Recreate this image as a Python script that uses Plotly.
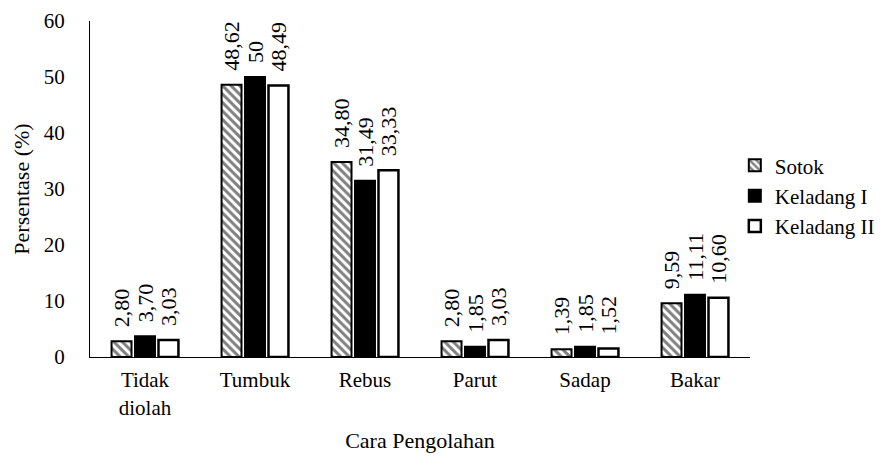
import plotly.graph_objects as go

categories = ["Tidak<br>diolah", "Tumbuk", "Rebus", "Parut", "Sadap", "Bakar"]
sotok = [2.80, 48.62, 34.80, 2.80, 1.39, 9.59]
keladang1 = [3.70, 50, 31.49, 1.85, 1.85, 11.11]
keladang2 = [3.03, 48.49, 33.33, 3.03, 1.52, 10.60]
sotok_lbl = ["2,80", "48,62", "34,80", "2,80", "1,39", "9,59"]
kel1_lbl = ["3,70", "50", "31,49", "1,85", "1,85", "11,11"]
kel2_lbl = ["3,03", "48,49", "33,33", "3,03", "1,52", "10,60"]

FONT = "Liberation Serif"
PAD = "\u00a0\u00a0"

fig = go.Figure()
fig.add_trace(go.Bar(
    name="Sotok", x=categories, y=sotok, text=[PAD + t for t in sotok_lbl],
    marker=dict(color="white", line=dict(color="black", width=2),
                pattern=dict(shape="\\", fgcolor="black", bgcolor="white", size=6, solidity=0.5)),
))
fig.add_trace(go.Bar(
    name="Keladang I", x=categories, y=keladang1, text=[PAD + t for t in kel1_lbl],
    marker=dict(color="black", line=dict(color="black", width=2)),
))
fig.add_trace(go.Bar(
    name="Keladang II", x=categories, y=keladang2, text=[PAD + t for t in kel2_lbl],
    marker=dict(color="white", line=dict(color="black", width=2.5)),
))
fig.update_traces(textposition="outside", textangle=-90, constraintext="none",
                  textfont=dict(family=FONT, size=22, color="black"),
                  cliponaxis=False)

fig.update_layout(
    width=891, height=457,
    margin=dict(l=82, r=149, t=13, b=108),
    paper_bgcolor="white", plot_bgcolor="white",
    font=dict(family=FONT, size=21, color="black"),
    barmode="group", bargap=0.36, bargroupgap=0.15,
    showlegend=True,
    legend=dict(x=0.977, y=0.48, xanchor="left", yanchor="middle",
                font=dict(family=FONT, size=21), itemwidth=30,
                tracegroupgap=0, bgcolor="rgba(0,0,0,0)"),
)
fig.update_xaxes(showline=True, linecolor="black", linewidth=1, ticks="", automargin=False,
                 ticklabelstandoff=4,
                 title=dict(text="Cara Pengolahan", font=dict(family=FONT, size=22), standoff=14),
                 tickfont=dict(family=FONT, size=21))
fig.update_yaxes(range=[0, 60], dtick=10, showline=True, linecolor="black", linewidth=1,
                 showgrid=False, zeroline=False, ticks="", automargin=False,
                 ticklabelstandoff=20, ticklabeloverflow="allow",
                 title=dict(text="Persentase (%)", font=dict(family=FONT, size=22), standoff=8),
                 tickfont=dict(family=FONT, size=21))

fig.write_html("out.html")
